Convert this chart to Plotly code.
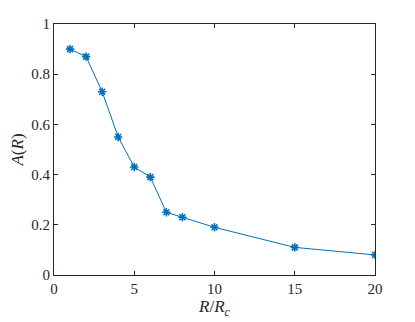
import plotly.graph_objects as go

# R/Rc values and measured A(R)
r_ratio = [1, 2, 3, 4, 5, 6, 7, 8, 10, 15, 20]
a_val = [0.90, 0.87, 0.73, 0.55, 0.43, 0.39, 0.25, 0.23, 0.19, 0.11, 0.08]

x_ticks = [0, 5, 10, 15, 20]
y_ticks = [0, 0.2, 0.4, 0.6, 0.8, 1]
y_labels = ["0", "0.2", "0.4", "0.6", "0.8", "1"]

blue = "#0072BD"
axcol = "#262626"
serif = "Liberation Serif"

fig = go.Figure()
fig.add_trace(go.Scatter(
    x=r_ratio, y=a_val, mode="lines+markers",
    line=dict(color=blue, width=1),
    marker=dict(symbol="asterisk-open", size=7, color=blue,
                line=dict(color=blue, width=1.6)),
))

axis_common = dict(
    showgrid=False, zeroline=False, showline=True, linecolor=axcol,
    linewidth=1, mirror="ticks", ticks="inside", ticklen=4, tickcolor=axcol,
    tickfont=dict(family=serif, size=15, color=axcol), automargin=False,
)

fig.update_xaxes(range=[0, 20], tickvals=x_ticks,
                 title=dict(text="<i>R</i>/<i>R</i><sub><i>c</i></sub>", standoff=2,
                            font=dict(family=serif, size=17, color=axcol)),
                 **axis_common)
fig.update_yaxes(range=[0, 1], tickvals=y_ticks, ticktext=y_labels,
                 title=dict(text="<i>A</i>(<i>R</i>)", standoff=6,
                            font=dict(family=serif, size=17, color=axcol)),
                 **axis_common)

# page body has an 8px margin, so the figure is a bit smaller than the window
fig.update_layout(
    width=407, height=314,
    margin=dict(l=46, r=40, t=16, b=47),
    plot_bgcolor="white", paper_bgcolor="white",
    font=dict(family=serif),
    showlegend=False,
)

fig.write_html("out.html")
